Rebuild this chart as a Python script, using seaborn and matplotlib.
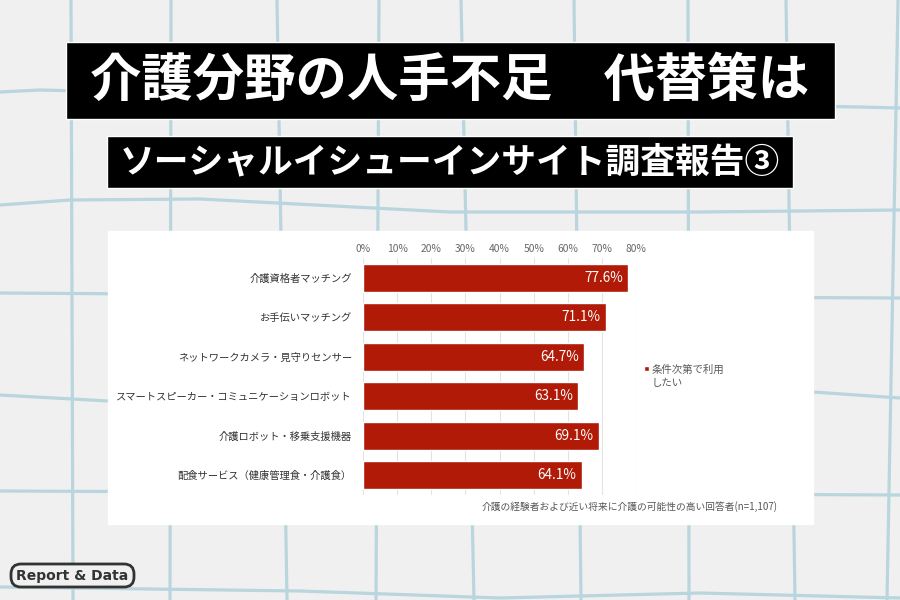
import matplotlib.pyplot as plt
import matplotlib as mpl
import numpy as np
import pandas as pd
import seaborn as sns
from matplotlib.patches import Rectangle, FancyBboxPatch

sns.set_style("white")
mpl.rcParams["font.family"] = ["Noto Sans CJK JP", "DejaVu Sans"]
mpl.rcParams["axes.unicode_minus"] = False

# データ
categories = [
    "介護資格者マッチング",
    "お手伝いマッチング",
    "ネットワークカメラ・見守りセンサー",
    "スマートスピーカー・コミュニケーションロボット",
    "介護ロボット・移乗支援機器",
    "配食サービス（健康管理食・介護食）",
]
values = [77.6, 71.1, 64.7, 63.1, 69.1, 64.1]
xticks = [0, 10, 20, 30, 40, 50, 60, 70, 80]
series_name = "条件次第で利用\nしたい"

title = "介護分野の人手不足　代替策は"
subtitle = "ソーシャルイシューインサイト調査報告③"
note = "介護の経験者および近い将来に介護の可能性の高い回答者(n=1,107)"

BG = "#f0f0f0"
GRID = "#b9d5dd"
BAR = "#b01a06"

fig = plt.figure(figsize=(9, 6), dpi=100, facecolor=BG)

# 背景（方眼）
bg = fig.add_axes([0, 0, 1, 1])
bg.set_xlim(0, 900)
bg.set_ylim(600, 0)
bg.axis("off")

hlines = [
    [(0, 92), (40, 90), (450, 100), (860, 107), (900, 108)],
    [(0, 205), (70, 200), (200, 199), (450, 212), (700, 212), (900, 210)],
    [(0, 293), (450, 296), (900, 298)],
    [(0, 395), (108, 401), (500, 397), (813, 392), (900, 398)],
    [(0, 491), (450, 493), (900, 495)],
    [(0, 587), (300, 591), (500, 598), (700, 593), (900, 598)],
]
vlines = [(71, 73), (171, 170), (277, 287), (379, 376), (461, 474),
          (574, 581), (688, 689), (786, 795), (898, 887)]
for pts in hlines:
    xs, ys = zip(*pts)
    bg.plot(xs, ys, color=GRID, lw=2.3, solid_capstyle="butt", zorder=1)
for xt, xb in vlines:
    bg.plot([xt, xb], [0, 600], color=GRID, lw=2.3, zorder=1)

# タイトル
bg.add_patch(Rectangle((66, 42), 769, 77, facecolor="black", zorder=3))
bg.text(450, 80, title, color="white", fontsize=37, fontweight="bold",
        ha="center", va="center", zorder=4)
bg.add_patch(Rectangle((107, 136), 686, 52, facecolor="black", zorder=3))
bg.text(450, 162, subtitle, color="white", fontsize=25, fontweight="bold",
        ha="center", va="center", zorder=4)

# 白パネル
bg.add_patch(Rectangle((108, 231), 705, 293, facecolor="white", zorder=3))

# バッジ
bg.add_patch(FancyBboxPatch((11, 564), 123, 23, boxstyle="round,pad=0,rounding_size=10",
                            facecolor=BG, edgecolor="#333333", lw=2, zorder=3))
bg.text(72.5, 576, "Report & Data", color="#333333", fontsize=10, fontweight="bold",
        family="DejaVu Sans", ha="center", va="center", zorder=4)

# 注記・凡例
bg.text(778, 507, note, color="#555555", fontsize=7, ha="right", va="center", zorder=4)
bg.add_patch(Rectangle((644, 366), 5, 5, facecolor=BAR, zorder=4))
bg.text(652, 376, series_name, color="#595959", fontsize=7.5, ha="left", va="center",
        linespacing=1.4, zorder=4)

# 棒グラフ
ax = fig.add_axes([363 / 900, 1 - 495 / 600, (636 - 363) / 900, (495 - 258) / 600])
ax.set_facecolor("none")
df = pd.DataFrame({"item": categories, "value": values})
sns.barplot(data=df, x="value", y="item", orient="h", color=BAR, width=0.7,
            saturation=1, ax=ax, zorder=3)
for i, v in enumerate(values):
    ax.text(v - 1.5, i, f"{v}%", color="white", fontsize=9.8, ha="right", va="center", zorder=4)

ax.set_xlim(0, 80)
ax.set_xticks(xticks)
ax.set_xticklabels([f"{t}%" for t in xticks])
ax.xaxis.tick_top()
ax.tick_params(axis="x", length=0, labelsize=7.4, labelcolor="#666666", pad=3)
ax.tick_params(axis="y", length=0, labelsize=7.4, labelcolor="#333333", pad=8)
ax.grid(axis="x", color="#e3e3e3", lw=0.8, zorder=0)
ax.set_xlabel("")
ax.set_ylabel("")
for s in ax.spines.values():
    s.set_visible(False)

plt.savefig("out.png", dpi=100, facecolor=BG)
plt.close()
